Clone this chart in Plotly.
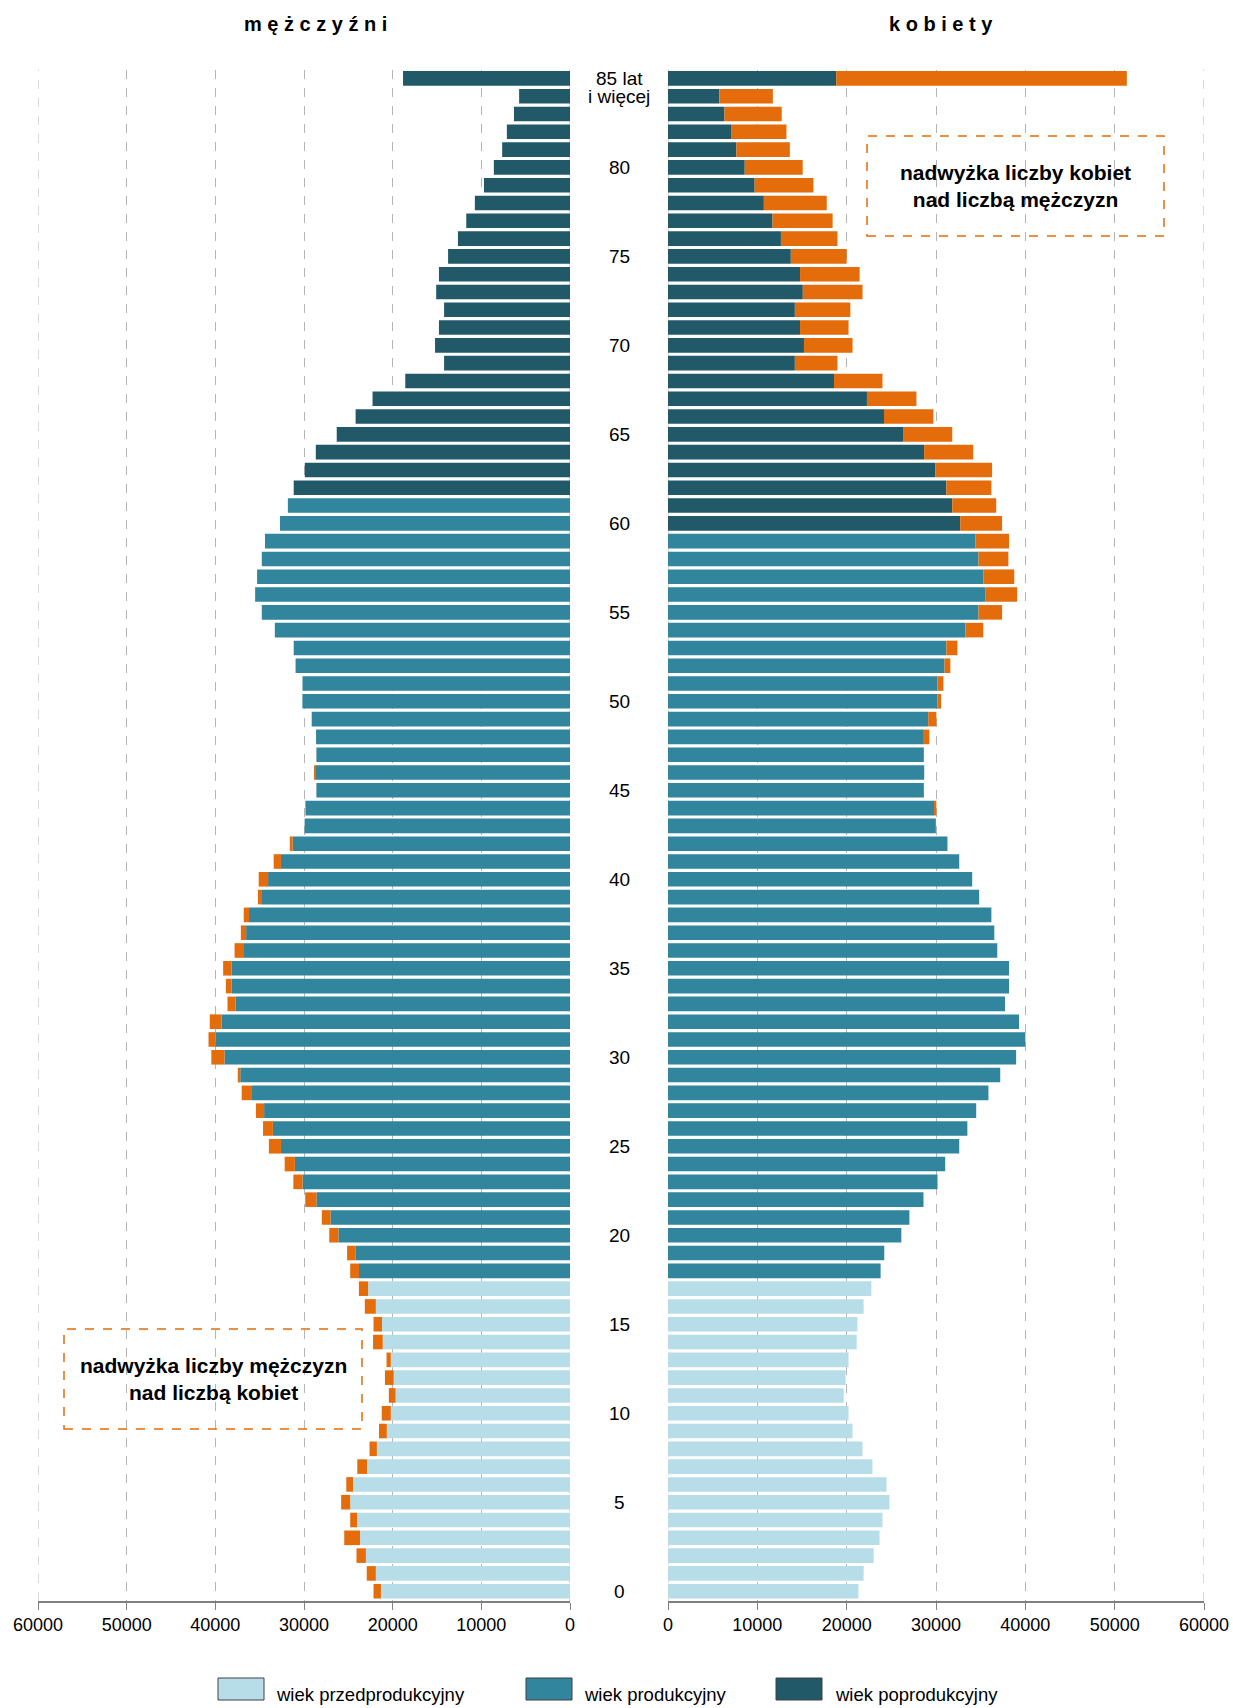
import plotly.graph_objects as go

# ---------------- data ----------------
ages = list(range(86))  # 85 = "85 lat i więcej"

men = [22160, 22920, 24080, 25460, 24790, 25810, 25230, 23990, 22610, 21540,
       21230, 20430, 20870, 20690, 22210, 22160, 23140, 23810, 24790, 25140,
       27150, 27990, 29860, 31200, 32180, 33960, 34620, 35420, 37030, 37470,
       40450, 40770, 40630, 38630, 38810, 39120, 37830, 37120, 36800, 35200,
       35110, 33420, 31600, 29930, 29840, 28600, 28820, 28600, 28640, 29130,
       30180, 30170, 30950, 31160, 33290, 34760, 35510, 35290, 34760, 34400,
       32710, 31820, 31160, 29910, 28670, 26310, 24180, 22270, 18580, 14200,
       15220, 14780, 14200, 15090, 14780, 13750, 12640, 11700, 10730, 9700,
       8590, 7650, 7120, 6320, 5740, 18830]

women = [21320, 21900, 23020, 23680, 24010, 24790, 24460, 22890, 21780, 20660,
         20210, 19670, 19880, 20210, 21120, 21200, 21900, 22770, 23800, 24210,
         26120, 27020, 28600, 30170, 31030, 32600, 33510, 34500, 35870, 37190,
         38970, 40000, 39300, 37730, 38180, 38180, 36860, 36530, 36200, 34830,
         34050, 32600, 31280, 29960, 30040, 28640, 28680, 28640, 29260, 30040,
         30580, 30830, 31610, 32400, 35290, 37400, 39090, 38760, 38100, 38180,
         37400, 36740, 36200, 36280, 34170, 31820, 29710, 27810, 24010, 18970,
         20660, 20210, 20410, 21780, 21450, 20000, 18970, 18430, 17770, 16280,
         15080, 13640, 13260, 12730, 11740, 51360]

# first age of the productive / post-productive group, per sex
prod_start = {"men": 18, "women": 18}
post_start = {"men": 62, "women": 60}

group_names = ["wiek przedprodukcyjny", "wiek produkcyjny", "wiek poprodukcyjny"]
age_ticks = [0, 5, 10, 15, 20, 25, 30, 35, 40, 45, 50, 55, 60, 65, 70, 75, 80]
x_ticks = [0, 10000, 20000, 30000, 40000, 50000, 60000]

# ---------------- styles ----------------
C_PRE, C_PROD, C_POST = "#B7DEE8", "#31859C", "#215968"
ORANGE = "#E46C0A"
GRID = "#B5B5B5"
FONT = "Liberation Sans, Arial, sans-serif"
FW, FH = 1233, 1708


def px(x):
    return x / FW


def py(y):
    return 1 - y / FH


def group_colors(sex):
    out = []
    for a in ages:
        if a >= post_start[sex]:
            out.append(C_POST)
        elif a >= prod_start[sex]:
            out.append(C_PROD)
        else:
            out.append(C_PRE)
    return out


common = [min(m, w) for m, w in zip(men, women)]
men_excess = [max(m - w, 0) for m, w in zip(men, women)]
women_excess = [max(w - m, 0) for m, w in zip(men, women)]

BW = 0.82
fig = go.Figure()
fig.add_trace(go.Bar(y=ages, x=common, orientation="h", width=BW,
                     marker=dict(color=group_colors("men"), line_width=0),
                     xaxis="x", yaxis="y"))
fig.add_trace(go.Bar(y=ages, x=men_excess, base=common, orientation="h", width=BW,
                     marker=dict(color=ORANGE, line_width=0),
                     xaxis="x", yaxis="y"))
fig.add_trace(go.Bar(y=ages, x=common, orientation="h", width=BW,
                     marker=dict(color=group_colors("women"), line_width=0),
                     xaxis="x2", yaxis="y2"))
fig.add_trace(go.Bar(y=ages, x=women_excess, base=common, orientation="h", width=BW,
                     marker=dict(color=ORANGE, line_width=0),
                     xaxis="x2", yaxis="y2"))

ydom = [py(1601), py(69.5)]
xax = dict(tickvals=x_ticks, ticktext=[str(v) for v in x_ticks],
           showgrid=True, gridcolor=GRID, griddash="dash", gridwidth=1,
           showline=True, linecolor="#808080", linewidth=1.5,
           ticks="outside", ticklen=7, tickcolor="#808080",
           tickfont=dict(family=FONT, size=18, color="#000"),
           ticklabeloverflow="allow",
           zeroline=False, fixedrange=True, automargin=False)
yax = dict(domain=ydom, range=[-0.55, 85.5], visible=False, fixedrange=True,
           automargin=False)

fig.update_layout(
    width=FW, height=FH, margin=dict(l=0, r=0, t=0, b=0, autoexpand=False),
    paper_bgcolor="white", plot_bgcolor="white",
    barmode="overlay", showlegend=False,
    xaxis=dict(xax, domain=[px(38), px(570)], range=[60000, 0], anchor="y"),
    xaxis2=dict(xax, domain=[px(668), px(1204)], range=[0, 60000], anchor="y2"),
    yaxis=dict(yax, anchor="x"),
    yaxis2=dict(yax, anchor="x2"),
    font=dict(family=FONT),
)

ann = []
shapes = []

# grid lines at the axis edges (plotly omits them there)
for xr in ("x", "x2"):
    for xv in (x_ticks[0], x_ticks[-1]):
        shapes.append(dict(type="line", xref=xr, yref="paper", x0=xv, x1=xv,
                           y0=ydom[0], y1=ydom[1], layer="below",
                           line=dict(color=GRID, width=1, dash="dash")))


def label(x, y, text, size, bold=False, xanchor="center", yref="paper"):
    ann.append(dict(x=x, y=y, xref="paper", yref=yref,
                    text=("<b>%s</b>" % text) if bold else text,
                    showarrow=False, xanchor=xanchor, yanchor="middle",
                    font=dict(family=FONT, size=size, color="#000")))


for a in age_ticks:
    label(px(619), a, str(a), 19, yref="y")
label(px(619), 85, "85 lat", 19, yref="y")
label(px(619), 84, "i więcej", 19, yref="y")

# panel titles
label(px(315), py(24), "m ę ż c z y ź n i", 20, bold=True)
label(px(941), py(24), "k o b i e t y", 20, bold=True)

# excess boxes
boxes = [((867, 136, 1164, 236), "nadwyżka liczby kobiet<br>nad liczbą mężczyzn"),
         ((64, 1329, 362, 1429), "nadwyżka liczby mężczyzn<br>nad liczbą kobiet")]
for (x0, y0, x1, y1), txt in boxes:
    shapes.append(dict(type="rect", xref="paper", yref="paper",
                       x0=px(x0), x1=px(x1), y0=py(y1), y1=py(y0),
                       line=dict(color=ORANGE, width=1.5, dash="dash"),
                       fillcolor="rgba(0,0,0,0)"))
    label(px((x0 + x1) / 2), py((y0 + y1) / 2), txt, 21, bold=True)

# legend
leg = [(218, 274, C_PRE), (526, 582, C_PROD), (776, 833, C_POST)]
for (bx, tx, col), name in zip(leg, group_names):
    shapes.append(dict(type="rect", xref="paper", yref="paper",
                       x0=px(bx), x1=px(bx + 46), y0=py(1700), y1=py(1678),
                       line=dict(color="#404040", width=1), fillcolor=col))
    label(px(tx), py(1694), name, 18.5, xanchor="left")

fig.update_layout(annotations=ann, shapes=shapes)
fig.write_html(
    "out.html",
    config={"displayModeBar": False},
    post_script=("document.body.style.margin='0';"
                 "document.documentElement.style.overflow='hidden';"),
)
